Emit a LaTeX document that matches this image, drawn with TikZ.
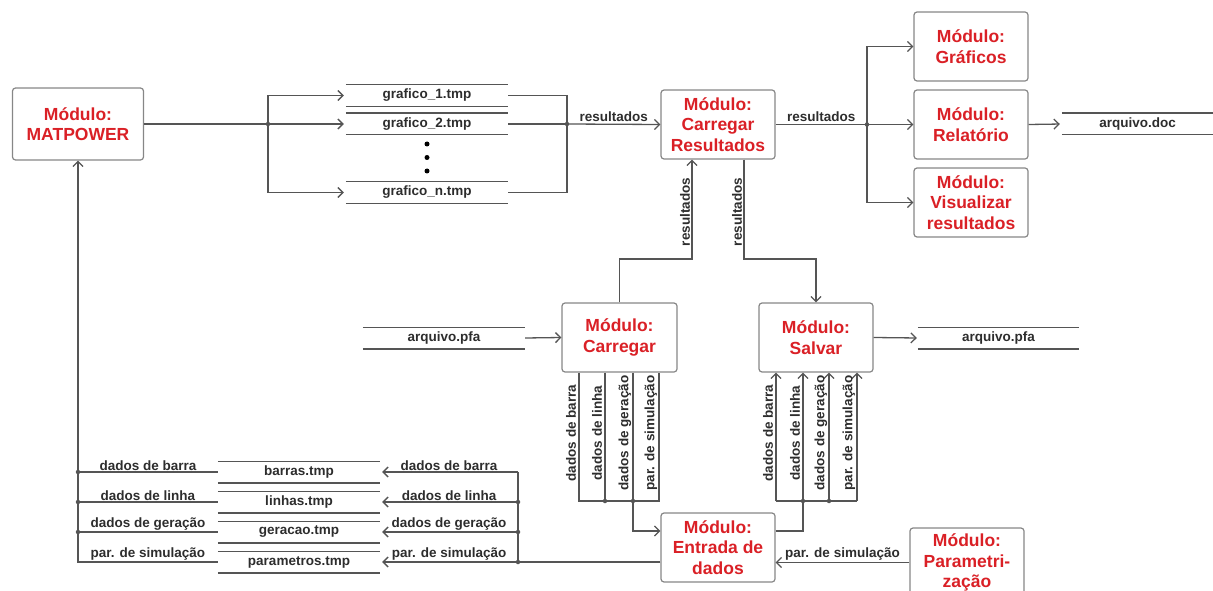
\documentclass[tikz,border=0pt]{standalone}
\usepackage{fontspec}
\setmainfont{Liberation Sans}
\usetikzlibrary{arrows.meta,calc}
\definecolor{modred}{RGB}{218,32,38}
\definecolor{linegray}{RGB}{85,85,85}
\definecolor{boxgray}{RGB}{135,135,135}
\definecolor{txtgray}{RGB}{45,45,45}
\begin{document}
\begin{tikzpicture}[x=1pt,y=-1pt,
 module/.style={draw=boxgray, line width=1.2pt, rounded corners=3pt, fill=white, align=center,
   font=\bfseries\fontsize{17.5}{20.5}\selectfont, text=modred, inner sep=0pt,
   minimum width=114pt, minimum height=69pt},
 store/.style={inner sep=0pt, minimum width=162pt, minimum height=21.5pt,
   font=\bfseries\fontsize{13.5}{15}\selectfont, text=txtgray},
 storeline/.style={draw=linegray, line width=1.1pt},
 lbl/.style={font=\bfseries\fontsize{13.5}{15}\selectfont, text=txtgray, inner sep=1pt},
 vlbl/.style={lbl, rotate=90},
 conn/.style={draw=linegray, line width=1.3pt},
 arr/.style={conn, -{Straight Barb[length=5pt,width=10pt,line width=1.3pt]}},
 dot/.style={circle, fill=linegray, inner sep=0pt, minimum size=4.5pt},
 smalldot/.style={circle, fill=black, inner sep=0pt, minimum size=5pt},
]
\useasboundingbox (0,0) rectangle (1213,591);
\clip (0,0) rectangle (1213,591);

% modules
\node[module, minimum width=131pt, minimum height=72pt] (mat) at (78,124) {Módulo:\\MATPOWER};
\node[module] (cres) at (718,124.5) {Módulo:\\Carregar\\Resultados};
\node[module] (graf) at (971,46.5) {Módulo:\\Gráficos};
\node[module] (rel) at (971,124.5) {Módulo:\\Relatório};
\node[module] (vis) at (971,202.5) {Módulo:\\Visualizar\\resultados};
\node[module, minimum width=115pt] (carr) at (619.5,337.5) {Módulo:\\Carregar};
\node[module] (salv) at (816,337.5) {Módulo:\\Salvar};
\node[module] (entr) at (718,547.5) {Módulo:\\Entrada de\\dados};
\node[module] (param) at (967,562.5) {Módulo:\\Parametri-\\zação};

% stores
\node[store] (g1) at (427,95.5) {grafico\_1.tmp};
\node[store] (g2) at (427,124) {grafico\_2.tmp};
\node[store] (gn) at (427,192.5) {grafico\_n.tmp};
\node[smalldot] (d1) at (427,144) {};
\node[smalldot] (d2) at (427,157.5) {};
\node[smalldot] (d3) at (427,171) {};
\node[store, minimum width=151pt] (doc) at (1137.5,124) {arquivo.doc};
\node[store, minimum width=162pt] (pfa1) at (444,338) {arquivo.pfa};
\node[store, minimum width=161pt] (pfa2) at (998.5,338) {arquivo.pfa};
\node[store] (barras) at (299,472) {barras.tmp};
\node[store] (linhas) at (299,502) {linhas.tmp};
\node[store] (geracao) at (299,532) {geracao.tmp};
\node[store] (parametros) at (299,562) {parametros.tmp};
\foreach \n in {g1,g2,gn,doc,pfa1,pfa2,barras,linhas,geracao,parametros}
  {\draw[storeline] (\n.north west) -- (\n.north east) (\n.south west) -- (\n.south east);}

% top: MATPOWER -> grafico files -> Carregar Resultados
\coordinate (j1) at (268,124);
\coordinate (j2) at (567,124);
\coordinate (j3) at (867,124.5);
\draw[conn] (mat.east) -- (j1);
\draw[arr, shorten >=2pt] (j1) |- (g1.west);
\draw[arr, shorten >=2pt] (j1) -- (g2.west);
\draw[arr, shorten >=2pt] (j1) |- (gn.west);
\draw[conn] (g1.east) -| (j2);
\draw[conn] (gn.east) -| (j2);
\draw[conn] (g2.east) -- (j2);
\draw[arr] (j2) -- node[lbl, above=1pt] {resultados} (cres.west);
\node[dot] at (j1) {};
\node[dot] at (j2) {};

% Carregar Resultados -> output modules
\draw[conn] (cres.east) -- node[lbl, above=1pt] {resultados} (j3);
\draw[arr] (j3) |- (graf.west);
\draw[arr] (j3) -- (rel.west);
\draw[arr] (j3) |- (vis.west);
\node[dot] at (j3) {};
\draw[arr, shorten >=2pt] (rel.east) -- (doc.west);

% Carregar <-> Carregar Resultados, Carregar Resultados -> Salvar
\coordinate (c1) at (692,259);
\coordinate (c2) at (744,259);
\draw[arr] (carr.north) |- (c1) -- (c1 |- cres.south);
\node[vlbl] at (685,212) {resultados};
\draw[arr] (c2 |- cres.south) -- (c2) -| (salv.north);
\node[vlbl] at (737,212) {resultados};

% files pfa
\draw[arr] (pfa1.east) -- (carr.west);
\draw[arr, shorten >=1pt] (salv.east) -- (pfa2.west);

% Carregar -> Entrada
\coordinate (cl1) at (579,501);
\coordinate (cl2) at (605,501);
\coordinate (cl3) at (633,501);
\coordinate (cl4) at (659,501);
\draw[conn] (cl1 |- carr.south) -- (cl1) -- (cl4) -- (cl4 |- carr.south);
\draw[conn] (cl2 |- carr.south) -- (cl2);
\draw[conn] (cl3 |- carr.south) -- (cl3);
\draw[arr] (cl3) |- ($(entr.west)+(0,-16.5)$);
\node[dot] at (cl2) {};
\node[dot] at (cl3) {};
\node[vlbl] at (571,433) {dados de barra};
\node[vlbl] at (597,433) {dados de linha};
\node[vlbl] at (625,433) {dados de geração};
\node[vlbl] at (651,433) {par. de simulação};

% Entrada -> Salvar
\coordinate (sl1) at (776,501);
\coordinate (sl2) at (803,501);
\coordinate (sl3) at (829,501);
\coordinate (sl4) at (857,501);
\draw[conn] ($(entr.east)+(0,-16.5)$) -| (sl2);
\draw[conn] (sl1) -- (sl4);
\foreach \s in {sl1,sl2,sl3,sl4} {\draw[arr] (\s) -- (\s |- salv.south);}
\node[dot] at (sl2) {};
\node[dot] at (sl3) {};
\node[vlbl] at (768,433) {dados de barra};
\node[vlbl] at (795,433) {dados de linha};
\node[vlbl] at (821,433) {dados de geração};
\node[vlbl] at (849,433) {par. de simulação};

% Parametrizacao -> Entrada
\draw[arr] (param.west) -- node[lbl, above=1pt] {par. de simulação} ($(entr.east)+(0,15)$);

% Entrada -> tmp files
\coordinate (j4) at (518,562);
\draw[conn] ($(entr.west)+(0,14.5)$) -- (j4) -- (j4 |- barras.east);
\draw[arr, shorten >=2pt] (j4 |- barras.east) -- node[lbl, above=0pt] {dados de barra} (barras.east);
\draw[arr, shorten >=2pt] (j4 |- linhas.east) -- node[lbl, above=0pt] {dados de linha} (linhas.east);
\draw[arr, shorten >=2pt] (j4 |- geracao.east) -- node[lbl, above=0pt] {dados de geração} (geracao.east);
\draw[arr, shorten >=2pt] (j4) -- node[lbl, above=0pt] {par. de simulação} (parametros.east);
\node[dot] at (j4 |- linhas.east) {};
\node[dot] at (j4 |- geracao.east) {};
\node[dot] at (j4) {};

% tmp files -> MATPOWER
\draw[arr] (parametros.west) -- node[lbl, above=0pt] {par. de simulação} (parametros.west -| mat.south) -- (mat.south);
\draw[conn] (barras.west) -- node[lbl, above=0pt] {dados de barra} (barras.west -| mat.south);
\draw[conn] (linhas.west) -- node[lbl, above=0pt] {dados de linha} (linhas.west -| mat.south);
\draw[conn] (geracao.west) -- node[lbl, above=0pt] {dados de geração} (geracao.west -| mat.south);
\node[dot] at (barras.west -| mat.south) {};
\node[dot] at (linhas.west -| mat.south) {};
\node[dot] at (geracao.west -| mat.south) {};
\end{tikzpicture}
\end{document}
